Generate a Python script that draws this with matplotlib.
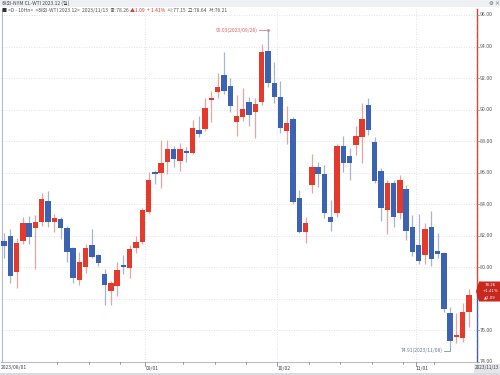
import matplotlib
matplotlib.use("Agg")
import matplotlib.pyplot as plt
from matplotlib.patches import Rectangle, Polygon
from matplotlib.transforms import blended_transform_factory

plt.rcParams['font.family'] = ['Noto Sans CJK KR', 'DejaVu Sans']

opens = [81.70, 82.00, 79.72, 81.70, 82.80, 82.50, 82.85, 84.20, 82.85, 83.05,
         82.47, 81.20, 79.20, 80.00, 81.40, 80.75, 79.60, 78.52, 78.80, 80.13,
         79.94, 81.23, 81.63, 83.53, 86.00, 86.00, 86.70, 87.50, 86.76, 87.36,
         87.23, 88.70, 88.75, 90.61, 91.14, 92.20, 91.52, 89.23, 89.55, 90.50,
         89.83, 90.50, 93.74, 91.71, 90.78, 88.64, 89.39, 84.42, 82.22, 85.22,
         86.38, 85.92, 83.17, 83.43, 87.69, 87.06, 87.76, 88.24, 90.29, 87.97,
         86.13, 83.63, 85.33, 83.47, 84.97, 82.58, 81.41, 80.78, 82.54, 81.05,
         80.89, 77.08, 75.56, 75.50, 77.15]
highs = [82.20, 82.40, 81.85, 83.20, 83.25, 83.30, 84.70, 84.85, 83.40, 83.20,
         82.60, 81.30, 81.00, 81.50, 82.40, 80.85, 79.90, 79.15, 80.35, 80.80,
         81.40, 82.00, 83.75, 86.05, 86.17, 88.07, 88.07, 87.70, 87.90, 87.60,
         89.34, 89.60, 90.72, 91.20, 92.34, 93.67, 92.00, 90.93, 91.35, 90.78,
         90.72, 94.16, 95.03, 93.04, 91.83, 90.23, 89.55, 84.90, 83.21, 87.19,
         86.70, 86.49, 84.27, 87.82, 88.33, 87.55, 88.96, 90.40, 90.72, 88.24,
         86.28, 85.54, 85.54, 85.85, 85.22, 83.32, 83.38, 82.79, 83.59, 82.20,
         81.00, 77.50, 77.12, 77.72, 78.64]
lows = [80.60, 79.00, 78.70, 81.50, 81.50, 79.90, 82.60, 82.55, 82.25, 81.80,
        80.36, 79.00, 78.90, 79.65, 80.57, 80.10, 77.60, 77.60, 78.15, 79.60,
        79.30, 80.90, 81.50, 83.40, 85.30, 85.00, 85.92, 86.35, 86.13, 86.70,
        87.20, 88.24, 88.66, 89.23, 90.72, 91.00, 89.87, 88.33, 89.30, 88.96,
        88.18, 90.29, 91.45, 90.40, 88.50, 87.82, 84.00, 82.16, 81.52, 84.69,
        85.11, 83.11, 82.32, 83.21, 86.06, 85.54, 87.12, 86.60, 88.39, 85.33,
        82.96, 82.11, 82.58, 83.04, 81.73, 80.72, 80.21, 80.21, 80.08, 80.57,
        77.19, 74.91, 75.18, 75.28, 76.21]
closes = [81.35, 79.45, 81.52, 82.80, 81.90, 82.90, 84.35, 82.85, 83.13, 82.50,
          81.00, 79.35, 80.35, 81.20, 80.67, 80.30, 78.85, 79.03, 79.80, 80.05,
          81.14, 81.63, 83.63, 85.54, 85.93, 86.64, 87.50, 86.85, 87.48, 87.27,
          88.81, 88.45, 90.12, 90.72, 91.45, 91.20, 90.25, 89.60, 90.02, 89.66,
          90.36, 93.67, 91.71, 90.78, 88.81, 89.17, 84.16, 82.26, 82.79, 86.34,
          85.92, 83.43, 82.87, 87.69, 86.60, 86.60, 88.33, 89.39, 88.71, 85.50,
          83.74, 85.37, 83.17, 85.54, 82.30, 80.99, 80.42, 82.41, 80.51, 80.84,
          77.34, 75.33, 75.74, 77.17, 78.26]

month_tick_idx = [0, 23, 44, 66, 74]
month_tick_labels = ['2023/08/01', '09/01', '10/02', '11/01', '2023/11/13']
week_tick_idx = [9, 14, 19, 29, 34, 39, 49, 54, 59, 64, 69]
y_ticks = [74, 76, 78, 80, 82, 84, 86, 88, 90, 92, 94, 96]

hi_label = '95.03(2023/09/28)'
lo_label = '74.91(2023/11/08)'
header1 = '해외-NYM CL-WTI 2023.12 (일)'
header_parts = [('■ ', '#333333'), ('<D - 10Hn>  <해외-WTI 2023.12>  2023/11/13  종:78.26 ', '#555555'),
                ('▲1.09  + 1.41%', '#E0392B'), ('  시:77.15  고:78.64  저:76.21', '#555555')]
last_close = 78.26
last_chg = '▲1.09'
last_pct = '+1.41%'

RED = '#E5392B'
BLUE = '#3B62B3'
RED_W = '#E9A3A0'
BLUE_W = '#A6B5CC'

W, H = 500, 375
fig = plt.figure(figsize=(W / 100, H / 100), dpi=100)
px_l, px_r, px_t, px_b = 1, 477, 9, 362
ax = fig.add_axes([px_l / W, 1 - px_b / H, (px_r - px_l) / W, (px_b - px_t) / H])

n = len(closes)
step = 6.284
x0 = 4
xmin = (px_l - x0) / step
xmax = (px_r - x0) / step
ax.set_xlim(xmin, xmax)
ppu = 15.77
ymax = 96 + (15 - px_t) / ppu
ymin = 96 - (px_b - 15) / ppu
ax.set_ylim(ymin, ymax)

for y in y_ticks:
    ax.axhline(y, color='#D9D9D9', lw=0.6, ls=(0, (1, 2)), zorder=0)
for i in month_tick_idx[1:4]:
    ax.axvline(i - 0.5, color='#D9D9D9', lw=0.6, ls=(0, (1, 2)), zorder=0)

bw = 0.86
for i in range(n):
    o, h, l, c = opens[i], highs[i], lows[i], closes[i]
    up = c >= o
    col = RED if up else BLUE
    wcol = RED_W if up else BLUE_W
    ax.vlines(i, l, h, color=wcol, lw=0.9, zorder=2)
    bot = min(o, c)
    ht = max(abs(c - o), 0.1)
    ax.add_patch(Rectangle((i - bw / 2, bot), bw, ht, facecolor=col, edgecolor='none', zorder=3))

# high / low annotations
ih = highs.index(max(highs))
ax.plot([ih - 1.5, ih], [highs[ih], highs[ih]], color='#E08080', lw=0.6, zorder=4)
ax.plot([ih], [highs[ih]], marker='o', ms=1.0, color='#E08080', zorder=4)
ax.text(ih - 1.6, highs[ih], hi_label, fontsize=3.6, color='#E06060', ha='right', va='center')
il = lows.index(min(lows))
ylab = min(lows) - 0.2
ax.plot([il - 1.0, il, il], [ylab, ylab, min(lows)], color='#8090A8', lw=0.6, zorder=4, clip_on=False)
ax.text(il - 1.1, ylab, lo_label, fontsize=3.6, color='#6A7A95', ha='right', va='center')

# axes styling
for s in ['top', 'right', 'left', 'bottom']:
    ax.spines[s].set_visible(False)
ax.set_xticks([])
ax.set_yticks([])

trb = blended_transform_factory(ax.transAxes, ax.transData)
ax.plot([1, 1], [last_close, ymax], color='#E04030', lw=1.0, transform=trb, clip_on=False)
ax.plot([1, 1], [ymin, last_close], color='#4060B0', lw=1.0, transform=trb, clip_on=False)
ax.plot([0, 1], [ymin, ymin], color='#B8BEC8', lw=0.8, transform=trb, clip_on=False)
ax.plot([0.002, 0.002], [ymin, ymax], color='#B0BAC8', lw=0.8, transform=trb, clip_on=False)

# price marker geometry (in pixels from top)
marker_c = 291.5
marker_half = 10
for y in y_ticks:
    ax.plot([1, 1.004], [y, y], transform=trb, color='#888888', lw=0.5, clip_on=False)
    ypx = 15 + (96 - y) * ppu
    if abs(ypx - marker_c) < marker_half + 3:
        continue  # hidden behind the price marker
    ax.text(1.006, y, f'{y:.2f}', transform=trb, fontsize=3.8, color='#555555', va='center', ha='left')
yy = 74.0
while yy < 96.3:
    if abs(yy - round(yy / 2) * 2) > 0.01:
        ax.plot([1, 1.003], [yy, yy], transform=trb, color='#AAAAAA', lw=0.4, clip_on=False)
    yy += 0.5

box_x0, box_x1 = 479 / W, 500 / W
yc = 1 - marker_c / H
hh = marker_half / H
fig.patches.append(Polygon([[box_x0 - 3 / W, yc], [box_x0, yc + hh], [box_x1, yc + hh], [box_x1, yc - hh],
                            [box_x0, yc - hh]], closed=True, transform=fig.transFigure,
                           facecolor='#C8281E', edgecolor='none', zorder=5))
xm = (box_x0 + box_x1) / 2 + 0.5 / W
mk = dict(fontsize=2.8, color='white', ha='center', va='center', zorder=6, family='DejaVu Sans')
fig.text(xm, yc + 6.3 / H, f'{last_close:.2f}', **mk)
fig.text(xm, yc, last_pct, **mk)
fig.text(xm, yc - 6.3 / H, last_chg, **mk)

# x axis ticks and labels
trx = blended_transform_factory(ax.transData, ax.transAxes)
for i in week_tick_idx:
    ax.plot([i - 0.5, i - 0.5], [0, -0.006], transform=trx, color='#777777', lw=0.5, clip_on=False)
for i, lab in zip(month_tick_idx, month_tick_labels):
    if i == 0:
        fig.text(1 / W, 1 - 368 / H, lab, fontsize=3.6, color='#444444', ha='left', va='center')
    elif i == n - 1:
        fig.patches.append(Rectangle((474 / W, 1 - 373 / H), 26 / W, 9 / H, transform=fig.transFigure,
                                     facecolor='#E4E6EA', edgecolor='none'))
        fig.text(499.5 / W, 1 - 368 / H, lab, fontsize=3.4, color='#444444', ha='right', va='center')
    else:
        ax.plot([i - 0.5, i - 0.5], [0, -0.01], transform=trx, color='#777777', lw=0.5, clip_on=False)
        ax.text(i - 0.5, -0.017, lab, transform=trx, fontsize=3.6, color='#444444', ha='left', va='center')

# bottom strip
fig.patches.append(Rectangle((0, 0), 1, 2.5 / H, transform=fig.transFigure, facecolor='#D8DBE0', edgecolor='none'))

# header
fig.patches.append(Rectangle((0, 1 - 7 / H), 1, 7 / H, transform=fig.transFigure, facecolor='#EEF0F3', edgecolor='none'))
fig.text(2 / W, 1 - 3.5 / H, header1, fontsize=3.6, color='#444444', ha='left', va='center')
fig.text(489 / W, 1 - 3.5 / H, '⚙ ×', fontsize=3.8, color='#555555', ha='left', va='center')
xcur = 2 / W
renderer = fig.canvas.get_renderer()
for txt, col in header_parts:
    t = fig.text(xcur, 1 - 10.5 / H, txt, fontsize=3.6, color=col, ha='left', va='center')
    bb = t.get_window_extent(renderer=renderer)
    xcur += bb.width / fig.bbox.width

fig.savefig('out.png', dpi=100, facecolor='white')
